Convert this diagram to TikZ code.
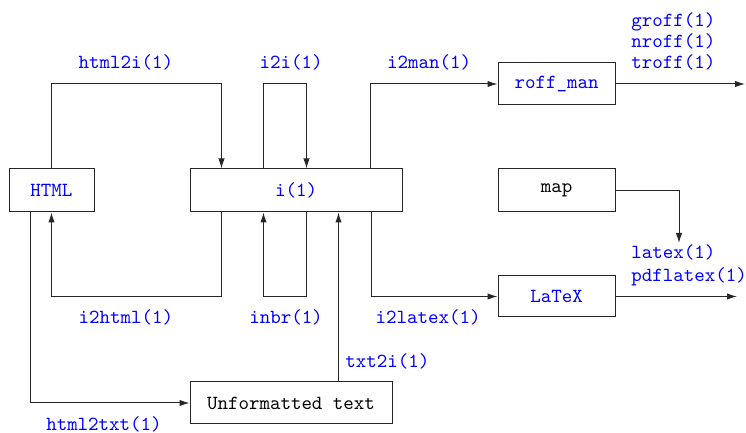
\documentclass[tikz,border=0pt]{standalone}
\usetikzlibrary{arrows.meta,calc}
\begin{document}
\begin{tikzpicture}[x=0.5pt,y=-0.5pt,
  box/.style={draw=black!85,line width=0.5pt,inner sep=0pt,font=\ttfamily},
  lbl/.style={text=blue,font=\ttfamily,inner sep=0pt},
  arr/.style={draw=black!85,line width=0.5pt,-{Latex[length=5pt,width=3.2pt]}}]
\useasboundingbox (0,0) rectangle (746,433);

% boxes
\node[box,text=blue,minimum width=42.5pt,minimum height=21.5pt] (html) at (51.5,190.5) {HTML};
\node[box,text=blue,minimum width=106pt,minimum height=21.5pt] (i) at (296,190.5) {i(1)};
\node[box,text=blue,minimum width=58.5pt,minimum height=21pt] (roff) at (556.5,84) {roff\_man};
\node[box,minimum width=58.5pt,minimum height=21.5pt] (map) at (556.5,190.5) {map};
\node[box,text=blue,minimum width=58.5pt,minimum height=20.5pt] (latex) at (556.5,296.5) {LaTeX};
\node[box,minimum width=101pt,minimum height=21pt] (txt) at (291,403) {Unformatted text};

% attachment points on i(1)
\coordinate (ta) at ($(i.north west)+(32,0)$);
\coordinate (tb) at ($(i.north west)+(74,0)$);
\coordinate (tc) at ($(i.north west)+(117,0)$);
\coordinate (td) at ($(i.north east)+(-32,0)$);
\coordinate (ba) at ($(i.south west)+(32,0)$);
\coordinate (bb) at ($(i.south west)+(74,0)$);
\coordinate (bc) at ($(i.south west)+(117,0)$);
\coordinate (bt) at ($(i.south west)+(149,0)$);
\coordinate (bd) at ($(i.south east)+(-31,0)$);
\coordinate (hs) at ($(html.south west)+(22,0)$);
\coordinate (outR) at (745,84);
\coordinate (outL) at (737,297);
\coordinate (texin) at (679,243);

% connectors
\draw[arr] (html.north) |- (ta |- roff) -- (ta);
\draw[arr] (tb) |- (tc |- roff) -- (tc);
\draw[arr] (td) |- (roff.west);
\draw[arr] (roff.east) -- (roff.east -| outR);
\draw[arr] (map.east) -| (texin);
\draw[arr] (latex.east) -- (latex.east -| outL);
\draw[arr] (bd) |- (latex.west);
\draw[arr] (ba) |- (html.south |- latex) -- (html.south);
\draw[arr] (bc) |- (bb |- latex) -- (bb);
\draw[arr] (txt.north -| bt) -- (bt);
\draw[arr] (hs) |- (txt.west);

% labels
\node[lbl] (l1) at (126,62) {html2i(1)};
\node[lbl] (l2) at (291,62) {i2i(1)};
\node[lbl] (l3) at (429,62) {i2man(1)};
\node[lbl,align=left,anchor=west] (l4) at (631,41) {groff(1)\\[-1.5pt]nroff(1)\\[-1.5pt]troff(1)};
\node[lbl,align=left,anchor=west] (l5) at (631,265.5) {latex(1)\\[-0.5pt]pdflatex(1)};
\node[lbl] (l6) at (126,317) {i2html(1)};
\node[lbl] (l7) at (286,317) {inbr(1)};
\node[lbl] (l8) at (428,317) {i2latex(1)};
\node[lbl,anchor=west] (l9) at (345,361) {txt2i(1)};
\node[lbl] (l10) at (104,424) {html2txt(1)};
\end{tikzpicture}
\end{document}
